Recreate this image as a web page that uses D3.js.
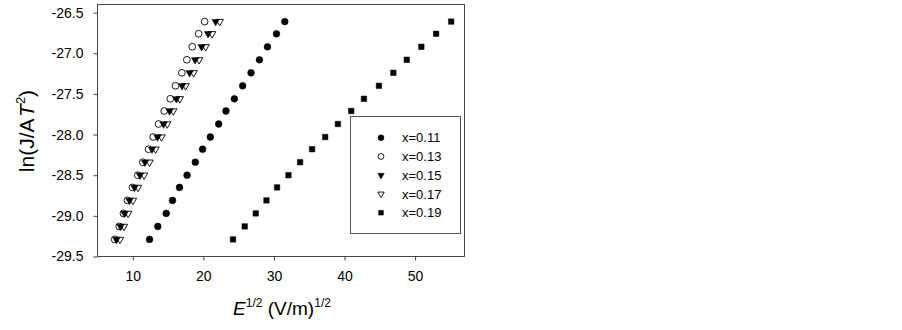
<!DOCTYPE html>
<html>
<head>
<meta charset="utf-8">
<script src="https://cdn.jsdelivr.net/npm/d3@7"></script>
<style>
  body { margin: 0; background: #fff; }
  svg { display: block; font-family: Arial, "Liberation Sans", sans-serif; }
</style>
</head>
<body>
<svg id="chart" width="902" height="330"></svg>
<script>
// ln(J/AT^2) levels, shared by all series (bottom to top)
const lnJ = [-29.29, -29.13, -28.97, -28.81, -28.65, -28.50, -28.34, -28.18, -28.03,
             -27.87, -27.71, -27.56, -27.40, -27.24, -27.08, -26.92, -26.76, -26.61];

// E^1/2 for each composition
const e011 = [12.37, 13.55, 14.74, 15.63, 16.62, 17.69, 18.86, 19.89, 20.99,
              22.17, 23.20, 24.39, 25.57, 26.75, 27.94, 29.08, 30.36, 31.54];
const e013 = [7.44, 8.07, 8.68, 9.24, 9.95, 10.71, 11.42, 12.23, 12.89,
              13.65, 14.46, 15.31, 16.06, 16.95, 17.66, 18.43, 19.33, 20.18];
const e015 = [7.68, 8.25, 8.82, 9.53, 10.24, 11.02, 11.73, 12.72, 13.50,
              14.36, 15.21, 16.16, 16.98, 18.05, 18.83, 19.75, 20.67, 21.74];
const e017 = [8.18, 8.75, 9.34, 10.02, 10.73, 11.59, 12.37, 13.22, 14.07,
              14.88, 15.73, 16.67, 17.48, 18.62, 19.40, 20.32, 21.24, 22.31];
const e019 = [24.20, 25.86, 27.42, 28.94, 30.44, 32.06, 33.71, 35.41, 37.26,
              39.06, 40.95, 42.75, 44.88, 46.92, 48.82, 50.89, 52.98, 55.11];

const seriesNames = ["x=0.11", "x=0.13", "x=0.15", "x=0.17", "x=0.19"];
const xTicks = [10, 20, 30, 40, 50];
const yTicks = [-29.5, -29.0, -28.5, -28.0, -27.5, -27.0, -26.5];

const series = [
  {name: seriesNames[0], xs: e011, shape: "circle", filled: true},
  {name: seriesNames[1], xs: e013, shape: "circle", filled: false},
  {name: seriesNames[2], xs: e015, shape: "tri", filled: true},
  {name: seriesNames[3], xs: e017, shape: "tri", filled: false},
  {name: seriesNames[4], xs: e019, shape: "square", filled: true}
];

var svg = d3.select("#chart"),
  margin = {top: 4.5, left: 97.5},
  width = 367,
  height = 252,
  g = svg.append("g").attr("transform", "translate(" + margin.left + "," + margin.top + ")");

var x = d3.scaleLinear().domain([5, 57]).range([0, width]);
var y = d3.scaleLinear().domain([-29.5, -26.4]).range([height, 0]);

function symPath(shape, scale) {
  if (shape == "circle") return d3.symbol(d3.symbolCircle, 36 * scale)();
  if (shape == "square") return d3.symbol(d3.symbolSquare, 30 * scale)();
  return d3.symbol(d3.symbolTriangle, 24 * scale)();
}

function drawMarker(sel, s, scale) {
  sel.attr("d", symPath(s.shape, scale))
    .attr("fill", s.filled ? "#000" : "none")
    .attr("stroke", "#000")
    .attr("stroke-width", s.filled ? 0.5 : 0.9);
}

// axes
var xAxis = g.append("g")
  .attr("transform", "translate(0," + height + ")")
  .call(d3.axisBottom(x).tickValues(xTicks).tickSize(4).tickPadding(11).tickFormat(d3.format("d")));
var yAxis = g.append("g")
  .call(d3.axisLeft(y).tickValues(yTicks).tickSize(4).tickPadding(10).tickFormat(d3.format(".1f")));

[xAxis, yAxis].forEach(a => {
  a.select(".domain").remove();
  a.selectAll("line").attr("stroke", "#444");
  a.selectAll("text").attr("font-size", 14).attr("fill", "#000")
    .attr("font-family", "Arial, 'Liberation Sans', sans-serif");
});
yAxis.selectAll("text").text(d => d3.format(".1f")(d).replace("−", "-"));

// frame
g.append("rect")
  .attr("width", width)
  .attr("height", height)
  .attr("fill", "none")
  .attr("stroke", "#444")
  .attr("stroke-width", 1);

// points
series.forEach(s => {
  g.append("g").selectAll("path")
    .data(s.xs.map((v, i) => ({e: v, l: lnJ[i]})))
    .enter().append("path")
    .attr("transform", d => "translate(" + x(d.e) + "," + y(d.l) + ")" + (s.shape == "tri" ? " rotate(180)" : ""))
    .call(drawMarker, s, 1);
});

// legend
var legend = svg.append("g");
legend.append("rect")
  .attr("x", 350.5).attr("y", 116.5)
  .attr("width", 110).attr("height", 117)
  .attr("fill", "#fff")
  .attr("stroke", "#555")
  .attr("stroke-width", 1);

var items = legend.selectAll("g.item")
  .data(series)
  .enter().append("g")
  .attr("class", "item")
  .attr("transform", (d, i) => "translate(381," + (137.7 + i * 18.75) + ")");

items.append("path")
  .each(function(d) {
    d3.select(this)
      .attr("transform", d.shape == "tri" ? "rotate(180)" : null)
      .call(drawMarker, d, 0.75);
  });

items.append("text")
  .attr("x", 21)
  .attr("dy", "0.35em")
  .attr("font-size", 13)
  .text(d => d.name);

// axis titles
var xt = svg.append("text")
  .attr("x", 282)
  .attr("y", 315)
  .attr("text-anchor", "middle")
  .attr("font-size", 19);
xt.append("tspan").attr("font-style", "italic").text("E");
xt.append("tspan").attr("font-size", 12).attr("dy", -8).text("1/2");
xt.append("tspan").attr("dy", 8).text(" (V/m)");
xt.append("tspan").attr("font-size", 12).attr("dy", -8).text("1/2");

var yt = svg.append("text")
  .attr("transform", "translate(34,131) rotate(-90)")
  .attr("text-anchor", "middle")
  .attr("font-size", 21);
yt.append("tspan").text("ln(J/A");
yt.append("tspan").attr("font-style", "italic").attr("dx", 1.5).text("T");
yt.append("tspan").attr("font-size", 13).attr("dy", -9).text("2");
yt.append("tspan").attr("dy", 9).text(")");
</script>
</body>
</html>
